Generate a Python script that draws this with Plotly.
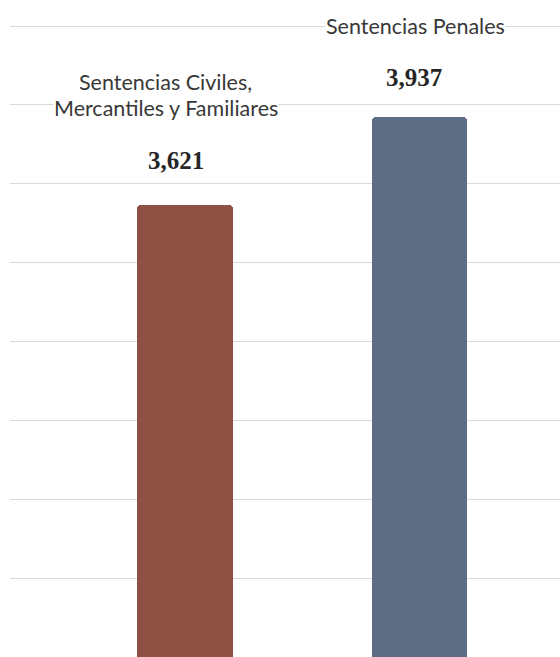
import plotly.graph_objects as go

categories = ["Sentencias Civiles,\nMercantiles y Familiares", "Sentencias Penales"]
values = [3621, 3937]
value_labels = ["3,621", "3,937"]
colors = ["#8e5245", "#5e6d83"]

# layout / style
W, H = 560, 657
y_range = [1998, 4357]
grid_step_px = 78.86
px_per_unit = H / (y_range[1] - y_range[0])
x_range = [-0.746, 1.599]

fig = go.Figure()
fig.add_trace(go.Bar(
    x=[0, 1], y=values,
    width=0.407,
    marker=dict(color=colors, line=dict(width=0), cornerradius=4),
    hoverinfo="skip",
))

# (xshift, yshift) of each text line relative to bar top
val_shift = [(-9, 44), (-6, 39)]
cat_shift = [[(-19, 123), (-19, 97)], [(-4, 91)]]
for i, (c, v, vl) in enumerate(zip(categories, values, value_labels)):
    fig.add_annotation(x=i, y=v, text="<b>" + vl + "</b>", showarrow=False,
                       yanchor="middle",
                       xshift=val_shift[i][0], yshift=val_shift[i][1],
                       font=dict(family="Liberation Serif", size=25, color="#262626"))
    lines = c.split("\n")
    for k, (line, (dx, dy)) in enumerate(zip(lines, cat_shift[i])):
        fig.add_annotation(x=i, y=v, text=line, showarrow=False, yanchor="middle",
                           xshift=dx, yshift=dy,
                           font=dict(family="Lato", size=21.5, color="#383838"),
                           bgcolor="white" if k == len(lines) - 1 else None,
                           borderpad=0)

fig.update_layout(
    width=W, height=H,
    margin=dict(l=10, r=0, t=0, b=0),
    paper_bgcolor="white", plot_bgcolor="white",
    showlegend=False,
    bargap=0,
    xaxis=dict(range=x_range, showgrid=False, zeroline=False, showticklabels=False,
               showline=False, ticks=""),
    yaxis=dict(range=y_range, showgrid=True, gridcolor="#d9d9d9", gridwidth=1,
               tick0=y_range[0], dtick=grid_step_px / px_per_unit,
               zeroline=False, showticklabels=False, showline=False, ticks=""),
)
fig.write_html("out.html", config={"displayModeBar": False},
               post_script="document.body.style.margin='0';")
